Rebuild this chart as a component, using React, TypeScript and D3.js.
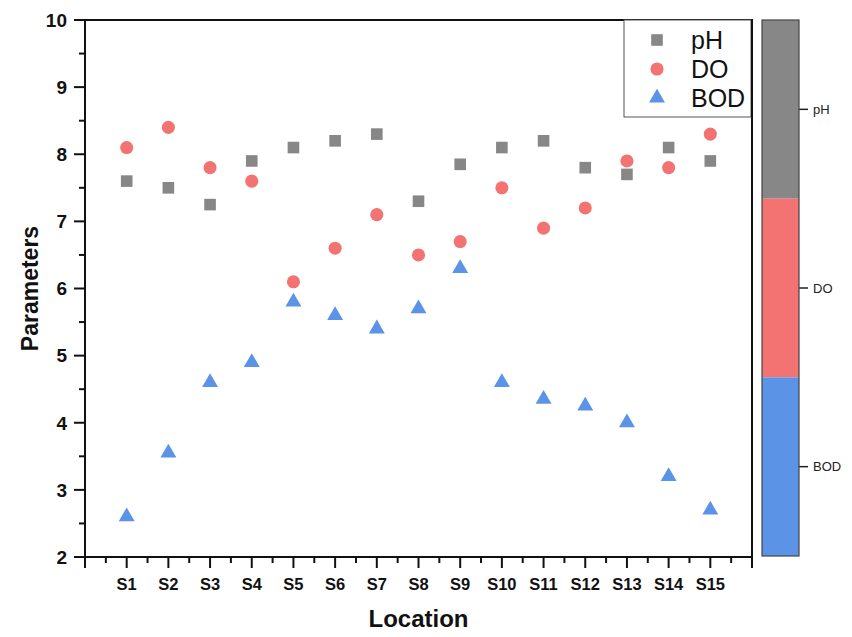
import React from "react";
import * as d3 from "d3";

const locations = ["S1","S2","S3","S4","S5","S6","S7","S8","S9","S10","S11","S12","S13","S14","S15"];
const phValues = [7.6, 7.5, 7.25, 7.9, 8.1, 8.2, 8.3, 7.3, 7.85, 8.1, 8.2, 7.8, 7.7, 8.1, 7.9];
const doValues = [8.1, 8.4, 7.8, 7.6, 6.1, 6.6, 7.1, 6.5, 6.7, 7.5, 6.9, 7.2, 7.9, 7.8, 8.3];
const bodValues = [2.6, 3.55, 4.6, 4.9, 5.8, 5.6, 5.4, 5.7, 6.3, 4.6, 4.35, 4.25, 4.0, 3.2, 2.7];
const yTicks = [2, 3, 4, 5, 6, 7, 8, 9, 10];
const seriesNames = ["pH", "DO", "BOD"];
const seriesColors = ["#878787", "#F37272", "#5B93E6"];

const W = 852, H = 637;
const L = 85, R = 752, T = 20, B = 557;
const FONT = "'Liberation Sans', Arial, Helvetica, sans-serif";

export default function App() {
  const x = d3.scaleLinear().domain([0, 16]).range([L, R]);
  const y = d3.scaleLinear().domain([2, 10]).range([B, T]);
  const sym = (type: any, size: number) => d3.symbol().type(type).size(size)() as string;
  const sq = sym(d3.symbolSquare, 135);
  const circ = sym(d3.symbolCircle, 135);
  const tri = sym(d3.symbolTriangle, 110);
  const shapes = [sq, circ, tri];
  const allSeries = [phValues, doValues, bodValues];

  const yMinor = d3.range(2.5, 10, 1);
  const xMajor = d3.range(0, 17, 1);
  const xMinor = d3.range(0.5, 16, 1);

  const cbX0 = 762, cbX1 = 799;
  const cb = d3.scaleBand().domain(["pH", "DO", "BOD"]).range([T, B - 1]).paddingInner(0);

  return (
    <svg width={W} height={H} style={{ position: "absolute", left: 0, top: 0, background: "#fff" }} fontFamily={FONT}>
      <rect x={0} y={0} width={W} height={H} fill="#fff" />
      {/* frame */}
      <rect x={L} y={T} width={R - L} height={B - T} fill="none" stroke="#111" strokeWidth={2} />
      {/* y ticks */}
      {yTicks.map(t => (
        <g key={"y" + t}>
          <line x1={L - 11} x2={L} y1={y(t)} y2={y(t)} stroke="#111" strokeWidth={2} />
          <text x={L - 18} y={y(t)} dy="0.36em" textAnchor="end" fontWeight="bold" fontSize={19} fill="#111">{t}</text>
        </g>
      ))}
      {yMinor.map(t => (
        <line key={"ym" + t} x1={L - 6} x2={L} y1={y(t)} y2={y(t)} stroke="#111" strokeWidth={2} />
      ))}
      {/* x ticks */}
      {xMajor.map(t => (
        <line key={"x" + t} x1={x(t)} x2={x(t)} y1={B} y2={B + 11} stroke="#111" strokeWidth={2} />
      ))}
      {xMinor.map(t => (
        <line key={"xm" + t} x1={x(t)} x2={x(t)} y1={B} y2={B + 6} stroke="#111" strokeWidth={2} />
      ))}
      {locations.map((l, i) => (
        <text key={l} x={x(i + 1)} y={590} textAnchor="middle" fontWeight="bold" fontSize={16.5} fill="#111">{l}</text>
      ))}
      <text x={(L + R) / 2} y={627} textAnchor="middle" fontWeight="bold" fontSize={24} fill="#111">Location</text>
      <text transform={`translate(38, ${(T + B) / 2}) rotate(-90)`} textAnchor="middle" fontWeight="bold" fontSize={23} fill="#111">Parameters</text>
      {/* points */}
      {allSeries.map((vals, si) =>
        vals.map((v, i) => (
          <path key={si + "-" + i} d={shapes[si]} transform={`translate(${x(i + 1)},${y(v)})`} fill={seriesColors[si]} />
        ))
      )}
      {/* legend */}
      <rect x={624} y={T} width={127} height={97} fill="#fff" stroke="#555" strokeWidth={1} />
      {seriesNames.map((n, i) => (
        <g key={n}>
          <path d={shapes[i]} transform={`translate(657,${40 + i * 29})`} fill={seriesColors[i]} />
          <text x={691} y={40 + i * 29} dy="0.36em" fontSize={25} fill="#111">{n}</text>
        </g>
      ))}
      <line x1={R} x2={R} y1={T} y2={117} stroke="#111" strokeWidth={2} />
      {/* color bar */}
      {seriesNames.map((n, i) => (
        <g key={"cb" + n}>
          <rect x={cbX0} y={cb(n)} width={cbX1 - cbX0} height={cb.bandwidth()} fill={seriesColors[i]} />
          <line x1={cbX1} x2={cbX1 + 9} y1={(cb(n) as number) + cb.bandwidth() / 2} y2={(cb(n) as number) + cb.bandwidth() / 2} stroke="#222" strokeWidth={1.5} />
          <text x={cbX1 + 14} y={(cb(n) as number) + cb.bandwidth() / 2} dy="0.36em" fontSize={13} fill="#222">{n}</text>
        </g>
      ))}
      <rect x={cbX0} y={T} width={cbX1 - cbX0} height={B - 1 - T} fill="none" stroke="#444" strokeWidth={1.2} />
    </svg>
  );
}
